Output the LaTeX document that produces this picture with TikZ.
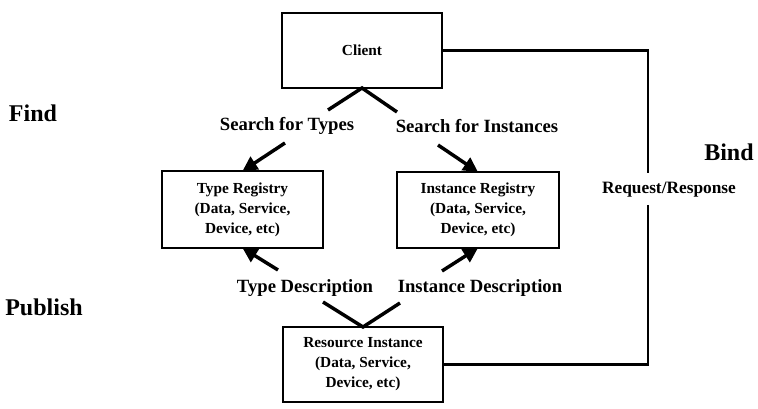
\documentclass[tikz,border=0pt]{standalone}
\usepackage{fontspec}
\setmainfont{Liberation Serif}
\usetikzlibrary{arrows.meta}
\begin{document}
\begin{tikzpicture}[x=0.75pt,y=-0.75pt,
  box/.style={draw,line width=1.6pt,inner sep=0pt,outer sep=0pt,align=center,
    font=\bfseries\fontsize{11.5}{15}\selectfont},
  lbl/.style={font=\bfseries\fontsize{14}{16}\selectfont,inner sep=0pt},
  big/.style={font=\bfseries\fontsize{18}{20}\selectfont,inner sep=0pt},
  vee/.style={line width=2.6pt,line join=miter},
  arr/.style={line width=2.6pt,-{Triangle[length=11pt,width=11pt]}},
  bindline/.style={line width=2.2pt}]
\useasboundingbox (0,0) rectangle (758,409);

% boxes
\node[box,minimum width=120pt,minimum height=56.25pt] (client) at (362,50.5) {Client};
\node[box,minimum width=120.75pt,minimum height=57.75pt] (typereg) at (242.5,209.5)
  {Type Registry\\(Data, Service,\\Device, etc)};
\node[box,minimum width=121.5pt,minimum height=57pt] (instreg) at (478,210)
  {Instance Registry\\(Data, Service,\\Device, etc)};
\node[box,minimum width=120pt,minimum height=56.25pt] (resource) at (363,364.5)
  {Resource Instance\\(Data, Service,\\Device, etc)};

% labels
\node[lbl] (sft) at (287,126) {Search for Types};
\node[lbl] (sfi) at (477,126) {Search for Instances};
\node[lbl] (tdesc) at (305,288) {Type Description};
\node[lbl] (idesc) at (480,288) {Instance Description};
\node[font=\bfseries\fontsize{13}{15}\selectfont,inner sep=0pt] (reqresp) at (669,190) {Request/Response};
\node[big] (bind) at (729,152) {Bind};
\node[big] (find) at (33,113) {Find};
\node[big] (publish) at (44,307) {Publish};

% find: client to registries
\coordinate (sL) at (328,110);
\coordinate (sR) at (397,112);
\draw[vee] (sL) -- (client.south) -- (sR);
\coordinate (aL) at (285,143);
\coordinate (aR) at (438,145);
\draw[arr] (aL) -- (typereg.north);
\draw[arr] (aR) -- (instreg.north);

% publish: resource to registries
\coordinate (pL) at (323,302);
\coordinate (pR) at (400,303);
\draw[vee] (pL) -- (resource.north) -- (pR);
\coordinate (bL) at (278,270);
\coordinate (bR) at (442,271);
\draw[arr] (bL) -- (typereg.south);
\draw[arr] (bR) -- (instreg.south);

% bind: client to resource
\coordinate (bindTop) at (648,173);
\coordinate (bindBot) at (648,205);
\draw[bindline,line join=miter] (client.east) -| (bindTop);
\draw[bindline,line join=miter] (bindBot) |- (resource.east);
\end{tikzpicture}
\end{document}
